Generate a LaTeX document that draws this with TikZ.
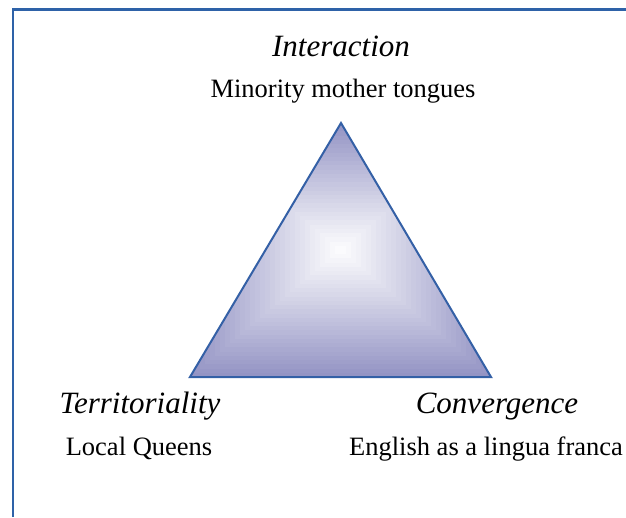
\documentclass[tikz,border=0pt]{standalone}
\usepackage{fontspec}
\setmainfont{Liberation Serif}
\usetikzlibrary{calc}
\definecolor{framecol}{RGB}{46,98,168}
\definecolor{edgecol}{RGB}{52,96,166}
\definecolor{tricol}{RGB}{148,148,196}
\tikzset{
  heading/.style={anchor=base,inner sep=0pt,font=\fontsize{31}{36}\selectfont\itshape},
  sublabel/.style={anchor=base,inner sep=0pt,font=\fontsize{26.5}{31}\selectfont},
}
\begin{document}
\begin{tikzpicture}[x=1pt,y=-1pt]
\useasboundingbox (0,0) rectangle (626,517);
% frame (left and top only visible)
\draw[framecol,line width=2.5pt] (13,517) -- (13,9.5) -- (626,9.5);
% triangle corners
\coordinate (apex) at (341,123);
\coordinate (bl) at (190,377);
\coordinate (br) at (491,377);
% stepped rectangular path gradient, clipped to the triangle
\begin{scope}
  \clip (apex) -- (bl) -- (br) -- cycle;
  \foreach \i in {30,...,1}{
    \pgfmathsetmacro{\w}{150.5*\i/30}
    \pgfmathsetmacro{\h}{127*\i/30}
    \pgfmathsetmacro{\p}{100*\i/30}
    \fill[tricol!\p!white] (340.5-\w,250-\h) rectangle (340.5+\w,250+\h);
  }
\end{scope}
\draw[edgecol,line width=2pt,line join=miter] (apex) -- (bl) -- (br) -- cycle;
% labels
\node[heading] (inter) at (341,56) {Interaction};
\node[sublabel] (minor) at (343,97) {Minority mother tongues};
\node[heading] (terr) at (140,413) {Territoriality};
\node[sublabel] (local) at (139,455) {Local Queens};
\node[heading] (conv) at (497,413) {Convergence};
\node[sublabel] (engl) at (486,455) {English as a lingua franca};
\end{tikzpicture}
\end{document}
